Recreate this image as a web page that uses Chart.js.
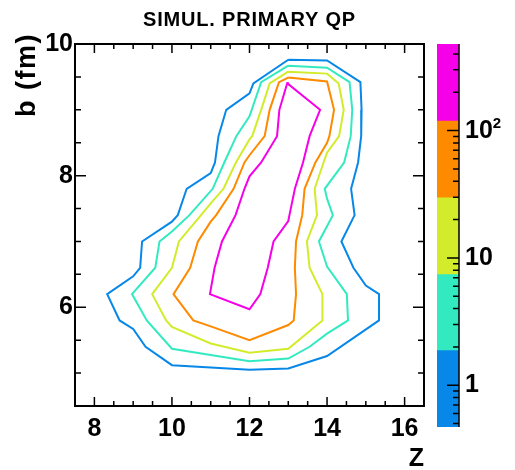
<!DOCTYPE html>
<html>
<head>
<meta charset="utf-8">
<title>SIMUL. PRIMARY QP</title>
<script src="https://cdn.jsdelivr.net/npm/chart.js@4.4.1/dist/chart.umd.min.js"></script>
<style>
  body { margin: 0; background: #fff; }
  .box { position: relative; width: 515px; height: 470px; }
  canvas { position: absolute; top: 0; }
  #plot { left: 0; }
  #scale { left: 420px; }
</style>
</head>
<body>
<div class="box">
  <canvas id="plot" width="515" height="470"></canvas>
  <canvas id="scale" width="95" height="470"></canvas>
</div>
<script>
// contour levels (counts per bin), log spaced
const levels = [0.47, 1.87, 7.4, 29.6, 119, 479];
const levelTicks = [1, 10, 100];

const zTicks = [8, 10, 12, 14, 16];
const bTicks = [6, 8, 10];

// iso-lines, one per level, vertices as [Z, b]
const iso1 = [[13.0, 9.76], [14.0, 9.75], [14.86, 9.42], [14.89, 9.0], [14.88, 8.6], [14.80, 8.2],
  [14.62, 7.8], [14.71, 7.4], [14.37, 7.0], [14.68, 6.6], [15.0, 6.33], [15.34, 6.2], [15.34, 5.8],
  [14.0, 5.26], [13.0, 5.07], [12.0, 5.05], [10.0, 5.12], [9.32, 5.4], [9.0, 5.67], [8.65, 5.8],
  [8.33, 6.2], [9.0, 6.47], [9.18, 6.6], [9.23, 7.0], [10.0, 7.3], [10.15, 7.4], [10.38, 7.8],
  [11.0, 8.04], [11.11, 8.2], [11.2, 8.6], [11.4, 9.0], [12.0, 9.25], [12.1, 9.4]];
const iso2 = [[13.0, 9.67], [14.0, 9.64], [14.58, 9.42], [14.65, 9.0], [14.61, 8.6], [14.44, 8.2],
  [13.94, 7.8], [14.0, 7.65], [14.15, 7.4], [13.79, 7.0], [14.0, 6.62], [14.51, 6.2], [14.54, 5.8],
  [14.0, 5.6], [13.55, 5.4], [13.0, 5.22], [12.0, 5.18], [10.0, 5.37], [9.35, 5.8], [8.97, 6.2],
  [9.57, 6.6], [9.68, 7.0], [10.0, 7.15], [10.45, 7.4], [11.05, 7.8], [11.35, 8.2], [11.66, 8.6],
  [12.0, 8.9], [12.3, 9.42]];
const iso3 = [[13.0, 9.58], [14.0, 9.55], [14.3, 9.4], [14.43, 9.0], [14.31, 8.6], [14.0, 8.35],
  [13.91, 8.2], [13.68, 7.8], [13.74, 7.4], [13.48, 7.0], [13.55, 6.6], [13.88, 6.2], [13.88, 5.8],
  [13.0, 5.37], [12.0, 5.31], [11.0, 5.45], [10.0, 5.7], [9.85, 5.8], [9.49, 6.2], [10.0, 6.6],
  [10.18, 7.0], [10.75, 7.4], [11.0, 7.58], [11.33, 7.8], [11.65, 8.2], [12.0, 8.55], [12.07, 8.6],
  [12.3, 9.0], [12.52, 9.4]];
const iso4 = [[13.0, 9.49], [14.0, 9.43], [14.18, 9.0], [14.06, 8.6], [14.0, 8.5], [13.7, 8.2],
  [13.42, 7.8], [13.36, 7.4], [13.2, 7.0], [13.17, 6.6], [13.2, 6.2], [13.14, 5.8], [13.0, 5.73],
  [12.0, 5.5], [11.0, 5.71], [10.55, 5.8], [10.04, 6.2], [10.47, 6.6], [10.67, 7.0], [11.0, 7.3],
  [11.14, 7.4], [11.59, 7.8], [11.87, 8.2], [12.0, 8.31], [12.39, 8.6], [12.52, 9.0], [12.76, 9.42]];
const iso5 = [[12.98, 9.42], [13.0, 9.39], [13.82, 9.0], [13.55, 8.6], [13.38, 8.2], [13.17, 7.8],
  [13.03, 7.4], [13.0, 7.31], [12.62, 7.0], [12.47, 6.6], [12.28, 6.2], [12.0, 5.97], [10.98, 6.2],
  [11.1, 6.6], [11.29, 7.0], [11.64, 7.4], [11.87, 7.8], [12.0, 7.99], [12.3, 8.2], [12.71, 8.6],
  [12.77, 9.0]];
const isoLines = [iso1, iso2, iso3, iso4, iso5];

const colors = ['#0788e8', '#33eac0', '#d2ec2c', '#fe8a00', '#f500e8'];
const FONT = "'Liberation Sans', Arial, sans-serif";
const tickFont = { family: FONT, size: 25, weight: 'bold', lineHeight: 1.2 };

// frame, inward ticks on all four sides, titles
const frame = {
  id: 'frame',
  afterDatasetsDraw(chart) {
    const { ctx, chartArea: a, scales: { x, y } } = chart;
    ctx.save();
    ctx.strokeStyle = '#000';
    ctx.lineWidth = 1.5;
    ctx.beginPath();
    for (let v = x.min + 0.5; v < x.max; v += 0.5) {
      const px = x.getPixelForValue(v);
      const len = zTicks.includes(v) ? 9 : 5;
      ctx.moveTo(px, a.bottom); ctx.lineTo(px, a.bottom - len);
      ctx.moveTo(px, a.top); ctx.lineTo(px, a.top + len);
    }
    for (let v = y.min + 0.5; v < y.max; v += 0.5) {
      const py = y.getPixelForValue(v);
      const len = bTicks.includes(v) ? 11 : 6;
      ctx.moveTo(a.left, py); ctx.lineTo(a.left + len, py);
      ctx.moveTo(a.right, py); ctx.lineTo(a.right - len, py);
    }
    ctx.stroke();
    ctx.lineWidth = 2;
    ctx.strokeRect(a.left, a.top, a.right - a.left, a.bottom - a.top);

    ctx.fillStyle = '#000';
    ctx.textBaseline = 'middle';
    ctx.font = 'bold 20px ' + FONT;
    ctx.textAlign = 'center';
    ctx.letterSpacing = '0.8px';
    ctx.fillText('SIMUL. PRIMARY QP', (a.left + a.right) / 2, 20);
    ctx.letterSpacing = '0px';
    ctx.font = 'bold 25px ' + FONT;
    ctx.textAlign = 'right';
    ctx.fillText('Z', a.right, 459);
    ctx.translate(28, 33);
    ctx.rotate(-Math.PI / 2);
    ctx.font = 'bold 27px ' + FONT;
    ctx.letterSpacing = '1.5px';
    ctx.fillText('b (fm)', 0, 0);
    ctx.restore();
  }
};

new Chart(document.getElementById('plot'), {
  type: 'scatter',
  data: {
    datasets: isoLines.map((pts, i) => ({
      data: pts.concat([pts[0]]).map(p => ({ x: p[0], y: p[1] })),
      showLine: true,
      borderColor: colors[i],
      borderWidth: 2,
      pointRadius: 0,
      pointHoverRadius: 0,
      tension: 0
    }))
  },
  options: {
    responsive: false,
    animation: false,
    events: [],
    layout: { padding: { left: 0, top: 44, right: 91, bottom: 0 } },
    plugins: { legend: { display: false }, tooltip: { enabled: false } },
    scales: {
      x: {
        type: 'linear', min: 7.5, max: 16.5,
        afterBuildTicks: s => { s.ticks = zTicks.map(v => ({ value: v })); },
        afterFit: s => { s.height = 64; },
        grid: { display: false, drawTicks: false },
        border: { display: false },
        ticks: { color: '#000', padding: 8, maxRotation: 0, autoSkip: false, font: tickFont }
      },
      y: {
        type: 'linear', min: 4.5, max: 10,
        afterBuildTicks: s => { s.ticks = bTicks.map(v => ({ value: v })); },
        afterFit: s => { s.width = 75; },
        grid: { display: false, drawTicks: false },
        border: { display: false },
        ticks: { color: '#000', padding: 2, autoSkip: false, font: tickFont }
      }
    }
  },
  plugins: [frame]
});

// colour scale: axis line, log ticks along its right edge, exponent on the 10^2 label
const scaleTicks = {
  id: 'scaleTicks',
  afterDatasetsDraw(chart) {
    const { ctx, chartArea: a, scales: { y } } = chart;
    ctx.save();
    ctx.strokeStyle = '#000';
    ctx.lineWidth = 1.5;
    ctx.beginPath();
    ctx.moveTo(a.right, a.top); ctx.lineTo(a.right, a.bottom);
    for (let e = -1; e <= 2; e++) {
      for (let k = 1; k <= 9; k++) {
        const v = k * Math.pow(10, e);
        if (v < y.min || v > y.max) continue;
        const py = y.getPixelForValue(v);
        const len = k === 1 ? 12 : 6;
        ctx.moveTo(a.right, py); ctx.lineTo(a.right - len, py);
      }
    }
    ctx.stroke();

    ctx.font = 'bold 25px ' + FONT;
    const base = ctx.measureText('10').width;
    ctx.font = 'bold 15px ' + FONT;
    ctx.fillStyle = '#000';
    ctx.textAlign = 'left';
    ctx.textBaseline = 'alphabetic';
    ctx.fillText('2', a.right + 6 + base, y.getPixelForValue(100) - 2.5);
    ctx.restore();
  }
};

new Chart(document.getElementById('scale'), {
  type: 'bar',
  data: {
    labels: [''],
    datasets: levels.slice(0, -1).map((lo, i) => ({
      data: [[lo, levels[i + 1]]],
      backgroundColor: colors[i],
      borderWidth: 0,
      grouped: false,
      barPercentage: 1,
      categoryPercentage: 1
    }))
  },
  options: {
    responsive: false,
    animation: false,
    events: [],
    layout: { padding: { left: 17, top: 44, right: 0, bottom: 43 } },
    plugins: { legend: { display: false }, tooltip: { enabled: false } },
    scales: {
      x: { display: false },
      y: {
        type: 'logarithmic', position: 'right',
        min: levels[0], max: levels[levels.length - 1],
        afterBuildTicks: s => { s.ticks = levelTicks.map(v => ({ value: v })); },
        afterFit: s => { s.width = 56; },
        grid: { display: false, drawTicks: false },
        border: { display: false },
        ticks: {
          color: '#000', padding: 6, autoSkip: false, font: tickFont,
          callback: v => (v === 100 ? '10' : String(v))
        }
      }
    }
  },
  plugins: [scaleTicks]
});
</script>
</body>
</html>
